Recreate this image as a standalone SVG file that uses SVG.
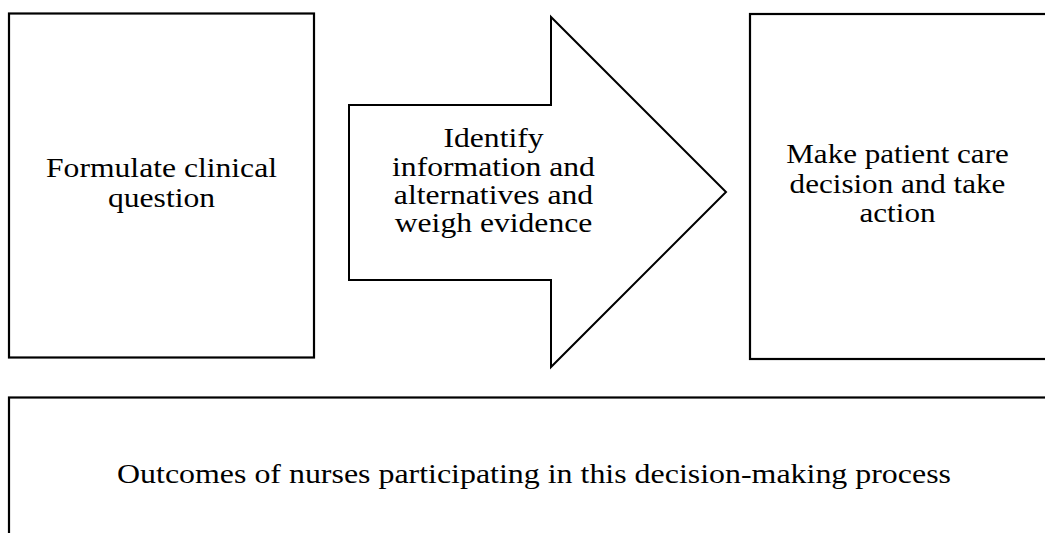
<svg xmlns="http://www.w3.org/2000/svg" width="1045" height="533" viewBox="0 0 1045 533">
<style>
.box{fill:#fff;stroke:#000;stroke-width:2.2}
.arr{fill:#fff;stroke:#000;stroke-width:2}
.t{font-family:"Liberation Serif","Times New Roman",serif;font-size:28px;fill:#000;text-anchor:middle}
</style>
<rect width="1045" height="533" fill="#fff"/>
<g id="node-formulate">
<rect class="box" x="9" y="13.5" width="305" height="344"/>
<g transform="translate(161.5,0) scale(1.13,1)">
<text class="t" x="0" y="177">Formulate clinical</text>
<text class="t" x="0" y="207">question</text>
</g>
</g>
<g id="node-identify">
<polygon class="arr" points="349,105 551,105 551,17 726,192 551,367 551,280 349,280"/>
<g transform="translate(493.5,0) scale(1.13,1)">
<text class="t" x="0" y="147">Identify</text>
<text class="t" x="0" y="176">information and</text>
<text class="t" x="0" y="204">alternatives and</text>
<text class="t" x="0" y="232">weigh evidence</text>
</g>
</g>
<g id="node-decision">
<rect class="box" x="750" y="14" width="310" height="345"/>
<g transform="translate(897.5,0) scale(1.11,1)">
<text class="t" x="0" y="163">Make patient care</text>
<text class="t" x="0" y="193">decision and take</text>
<text class="t" x="0" y="222">action</text>
</g>
</g>
<g id="node-outcomes">
<rect class="box" x="9" y="397.5" width="1060" height="200"/>
<g transform="translate(534,0) scale(1.14,1)">
<text class="t" x="0" y="483">Outcomes of nurses participating in this decision-making process</text>
</g>
</g>
<g id="connectors"></g>
</svg>
